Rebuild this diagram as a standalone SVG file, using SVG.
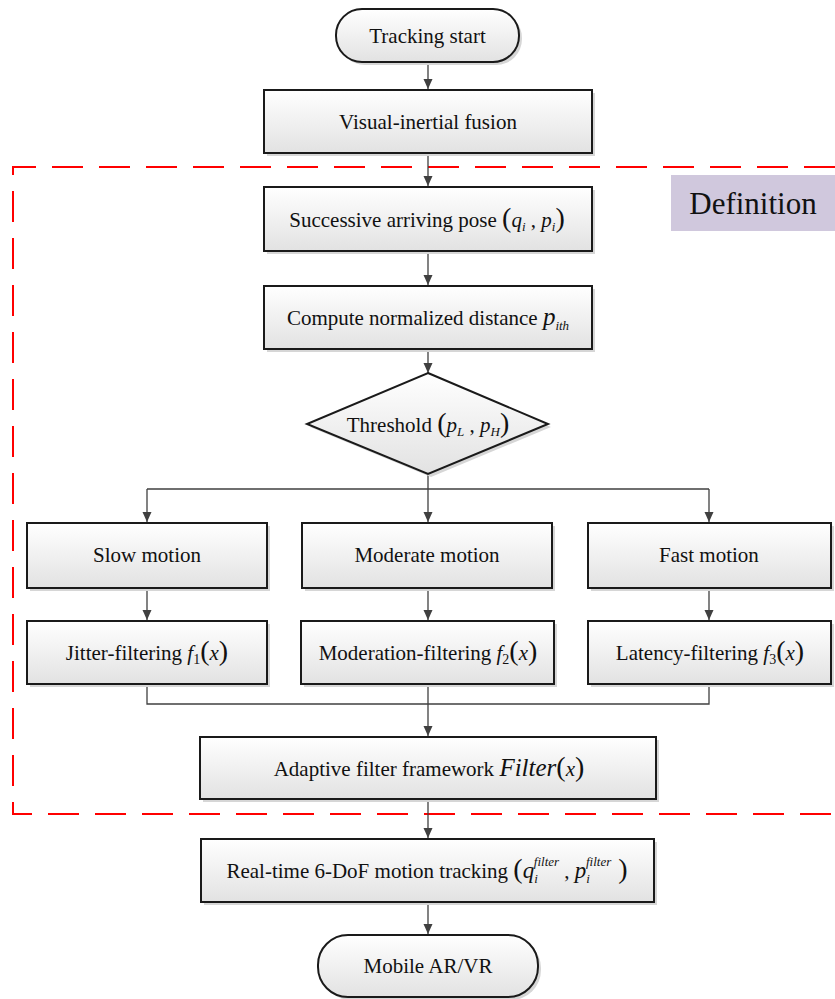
<svg xmlns="http://www.w3.org/2000/svg" width="835" height="999" viewBox="0 0 835 999">
<defs>
<linearGradient id="g" x1="0" y1="0" x2="0" y2="1">
<stop offset="0" stop-color="#ffffff"/>
<stop offset="1" stop-color="#e2e2e2"/>
</linearGradient>
<marker id="ah" viewBox="0 0 10 10" refX="10" refY="5" markerWidth="10" markerHeight="10" markerUnits="userSpaceOnUse" orient="auto">
<path d="M0,0.5 L10,5 L0,9.5 Z" fill="#404040"/>
</marker>
</defs>
<rect width="835" height="999" fill="#ffffff"/>

<g id="definition-region">
<path d="M835,167 H13 V814 H835" fill="none" stroke="#ff0000" stroke-width="2" stroke-dasharray="31,16"/>
<rect x="671" y="175" width="166" height="56" fill="#d0c8dd"/>
<text x="753" y="214" font-family="Liberation Serif" font-size="31" text-anchor="middle" fill="#111">Definition</text>
</g>

<g id="connectors" fill="none" stroke="#404040" stroke-width="1.3">
<line marker-end="url(#ah)" x1="428" y1="62" x2="428" y2="89"/>
<line marker-end="url(#ah)" x1="428" y1="153" x2="428" y2="186"/>
<line marker-end="url(#ah)" x1="428" y1="251" x2="428" y2="285"/>
<line marker-end="url(#ah)" x1="428" y1="349" x2="428" y2="373"/>
<path d="M428,474 V489 M147,489 H709"/>
<line marker-end="url(#ah)" x1="147" y1="489" x2="147" y2="522"/>
<line marker-end="url(#ah)" x1="428" y1="489" x2="428" y2="522"/>
<line marker-end="url(#ah)" x1="709" y1="489" x2="709" y2="522"/>
<line marker-end="url(#ah)" x1="147" y1="588" x2="147" y2="620"/>
<line marker-end="url(#ah)" x1="428" y1="588" x2="428" y2="620"/>
<line marker-end="url(#ah)" x1="709" y1="588" x2="709" y2="620"/>
<path d="M147,684 V704 H709 V684"/>
<line marker-end="url(#ah)" x1="428" y1="684" x2="428" y2="736"/>
<line marker-end="url(#ah)" x1="428" y1="799" x2="428" y2="838"/>
<line marker-end="url(#ah)" x1="428" y1="902" x2="428" y2="934"/>
</g>

<g id="tracking-start">
<rect fill="#d6d6d6" x="339" y="12" width="183" height="53" rx="26"/>
<rect fill="url(#g)" stroke="#1a1a1a" stroke-width="2" x="336" y="9" width="183" height="53" rx="26"/>
<text x="427.5" y="43" font-family="Liberation Serif" font-size="21" text-anchor="middle" fill="#111">Tracking start</text>
</g>

<g id="visual-inertial-fusion">
<rect fill="#d6d6d6" x="267" y="93" width="328" height="63"/>
<rect fill="url(#g)" stroke="#1a1a1a" stroke-width="2" x="264" y="90" width="328" height="63"/>
<text x="428" y="129" font-family="Liberation Serif" font-size="21" text-anchor="middle" fill="#111">Visual-inertial fusion</text>
</g>

<g id="successive-pose">
<rect fill="#d6d6d6" x="267" y="190" width="328" height="64"/>
<rect fill="url(#g)" stroke="#1a1a1a" stroke-width="2" x="264" y="187" width="328" height="64"/>
<text x="427" y="227" font-family="Liberation Serif" font-size="21" text-anchor="middle" fill="#111">Successive arriving pose  <tspan font-size="28">(</tspan><tspan font-style="italic">q</tspan><tspan font-size="13" font-style="italic" dy="4">i</tspan><tspan dy="-4"> , </tspan><tspan font-style="italic">p</tspan><tspan font-size="13" font-style="italic" dy="4">i</tspan><tspan font-size="28" dy="-4">)</tspan></text>
</g>

<g id="compute-distance">
<rect fill="#d6d6d6" x="267" y="289" width="328" height="63"/>
<rect fill="url(#g)" stroke="#1a1a1a" stroke-width="2" x="264" y="286" width="328" height="63"/>
<text x="428" y="325" font-family="Liberation Serif" font-size="21" text-anchor="middle" fill="#111">Compute normalized distance <tspan font-style="italic" font-size="25">p</tspan><tspan font-size="13" font-style="italic" dy="5">ith</tspan></text>
</g>

<g id="threshold">
<polygon points="431,376 551,427 431,477 310,427" fill="#d6d6d6"/>
<polygon fill="url(#g)" stroke="#1a1a1a" stroke-width="2" points="428,373 548,424 428,474 307,424"/>
<text x="428" y="432" font-family="Liberation Serif" font-size="21" text-anchor="middle" fill="#111">Threshold  <tspan font-size="28">(</tspan><tspan font-style="italic">p</tspan><tspan font-size="13" font-style="italic" dy="4">L</tspan><tspan dy="-4"> , </tspan><tspan font-style="italic">p</tspan><tspan font-size="13" font-style="italic" dy="4">H</tspan><tspan font-size="28" dy="-4">)</tspan></text>
</g>

<g id="slow-motion">
<rect fill="#d6d6d6" x="30" y="526" width="240" height="65"/>
<rect fill="url(#g)" stroke="#1a1a1a" stroke-width="2" x="27" y="523" width="240" height="65"/>
<text x="147" y="562" font-family="Liberation Serif" font-size="21" text-anchor="middle" fill="#111">Slow motion</text>
</g>
<g id="moderate-motion">
<rect fill="#d6d6d6" x="305" y="526" width="250" height="65"/>
<rect fill="url(#g)" stroke="#1a1a1a" stroke-width="2" x="302" y="523" width="250" height="65"/>
<text x="427" y="562" font-family="Liberation Serif" font-size="21" text-anchor="middle" fill="#111">Moderate motion</text>
</g>
<g id="fast-motion">
<rect fill="#d6d6d6" x="591" y="526" width="243" height="65"/>
<rect fill="url(#g)" stroke="#1a1a1a" stroke-width="2" x="588" y="523" width="243" height="65"/>
<text x="709" y="562" font-family="Liberation Serif" font-size="21" text-anchor="middle" fill="#111">Fast motion</text>
</g>

<g id="jitter-filtering">
<rect fill="#d6d6d6" x="30" y="624" width="240" height="63"/>
<rect fill="url(#g)" stroke="#1a1a1a" stroke-width="2" x="27" y="621" width="240" height="63"/>
<text x="147" y="660" font-family="Liberation Serif" font-size="21" text-anchor="middle" fill="#111">Jitter-filtering  <tspan font-style="italic">f</tspan><tspan font-size="14" dy="4">1</tspan><tspan font-size="28" dy="-4">(</tspan><tspan font-style="italic">x</tspan><tspan font-size="28">)</tspan></text>
</g>
<g id="moderation-filtering">
<rect fill="#d6d6d6" x="304" y="624" width="253" height="63"/>
<rect fill="url(#g)" stroke="#1a1a1a" stroke-width="2" x="301" y="621" width="253" height="63"/>
<text x="428" y="660" font-family="Liberation Serif" font-size="21" text-anchor="middle" fill="#111">Moderation-filtering <tspan font-style="italic">f</tspan><tspan font-size="14" dy="4">2</tspan><tspan font-size="28" dy="-4">(</tspan><tspan font-style="italic">x</tspan><tspan font-size="28">)</tspan></text>
</g>
<g id="latency-filtering">
<rect fill="#d6d6d6" x="591" y="624" width="243" height="63"/>
<rect fill="url(#g)" stroke="#1a1a1a" stroke-width="2" x="588" y="621" width="243" height="63"/>
<text x="710" y="660" font-family="Liberation Serif" font-size="21" text-anchor="middle" fill="#111">Latency-filtering  <tspan font-style="italic">f</tspan><tspan font-size="14" dy="4">3</tspan><tspan font-size="28" dy="-4">(</tspan><tspan font-style="italic">x</tspan><tspan font-size="28">)</tspan></text>
</g>

<g id="adaptive-filter">
<rect fill="#d6d6d6" x="203" y="740" width="456" height="62"/>
<rect fill="url(#g)" stroke="#1a1a1a" stroke-width="2" x="200" y="737" width="456" height="62"/>
<text x="429" y="776" font-family="Liberation Serif" font-size="21" text-anchor="middle" fill="#111">Adaptive filter framework <tspan font-style="italic" font-size="25">Filter</tspan><tspan font-size="28">(</tspan><tspan font-style="italic">x</tspan><tspan font-size="28">)</tspan></text>
</g>

<g id="realtime-tracking">
<rect fill="#d6d6d6" x="204" y="842" width="453" height="63"/>
<rect fill="url(#g)" stroke="#1a1a1a" stroke-width="2" x="201" y="839" width="453" height="63"/>
<text x="427" y="878" font-family="Liberation Serif" font-size="21" text-anchor="middle" fill="#111">Real-time 6-DoF motion tracking  <tspan font-size="28">(</tspan><tspan font-style="italic" font-size="23">q</tspan><tspan font-size="13" font-style="italic" dy="5">i</tspan><tspan font-size="13" font-style="italic" dx="-4" dy="-17">filter</tspan><tspan dy="12"> , </tspan><tspan font-style="italic" font-size="23">p</tspan><tspan font-size="13" font-style="italic" dy="5">i</tspan><tspan font-size="13" font-style="italic" dx="-4" dy="-17">filter</tspan><tspan font-size="28" dy="12"> )</tspan></text>
</g>

<g id="mobile-ar-vr">
<rect fill="#d6d6d6" x="321" y="938" width="220" height="62" rx="30"/>
<rect fill="url(#g)" stroke="#1a1a1a" stroke-width="2" x="318" y="935" width="220" height="62" rx="30"/>
<text x="428" y="973" font-family="Liberation Serif" font-size="21" text-anchor="middle" fill="#111">Mobile AR/VR</text>
</g>
</svg>
